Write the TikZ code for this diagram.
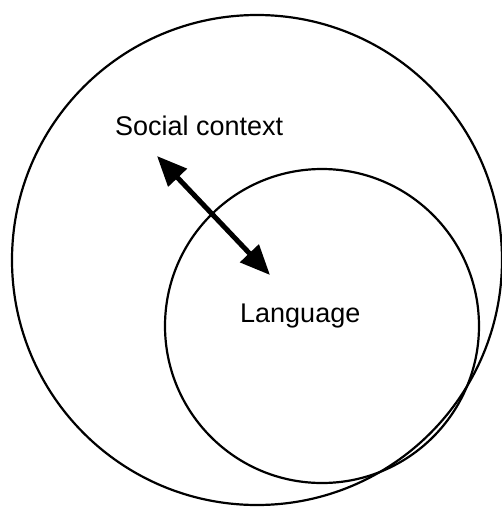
\documentclass[tikz,border=0pt]{standalone}
\usepackage{fontspec}
\setmainfont{Liberation Sans}
\usetikzlibrary{arrows.meta,positioning}

\begin{document}
\begin{tikzpicture}[x=1pt,y=-1pt,
  ring/.style={draw,circle,line width=2.2pt,inner sep=0pt},
  tag/.style={font=\fontsize{27}{32}\selectfont,inner sep=0pt,anchor=base west}]
  \useasboundingbox (0,0) rectangle (502,507);

  % Círculo grande: contexto social
  \node[ring,minimum size=490pt] (context) at (257,260) {};

  % Círculo pequeño: lengua
  \node[ring,minimum size=314pt] (language) at (322,326) {};

  % Textos
  \node[tag] (contexttag) at (115,135) {Social context};
  \node[tag] (languagetag) at (240,322) {Language};

  % Flecha doble entre ambos
  \coordinate (upper) at (157,156);
  \coordinate (lower) at (270,275);
  \draw[line width=5pt,{Triangle[length=30pt,width=25pt]}-{Triangle[length=30pt,width=25pt]}] (upper) -- (lower);

\end{tikzpicture}
\end{document}
